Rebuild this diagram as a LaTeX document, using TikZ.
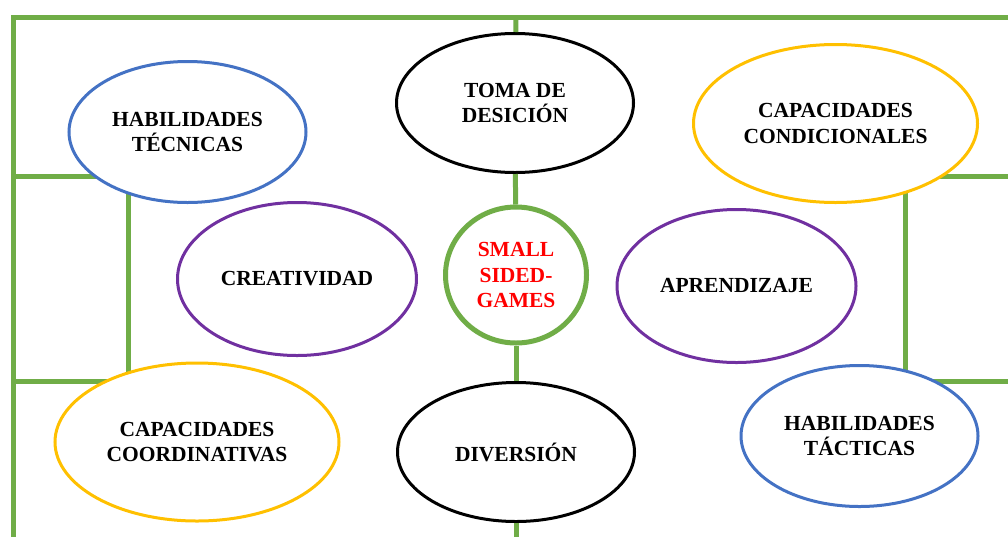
\documentclass[tikz,border=0pt]{standalone}
\usepackage{fontspec}
\setmainfont{Liberation Serif}
\usetikzlibrary{shapes.geometric}
\definecolor{fgreen}{HTML}{70AD47}
\definecolor{oblue}{HTML}{4472C4}
\definecolor{oyellow}{HTML}{FFC000}
\definecolor{opurple}{HTML}{7030A0}
\tikzset{
  field/.style={draw=fgreen, line width=5pt},
  bubble/.style={ellipse, fill=white, line width=3pt, inner sep=0pt, align=center,
    font=\fontsize{21.5}{25.5}\selectfont\bfseries},
  bluebub/.style={bubble, draw=oblue, minimum width=237pt, minimum height=141pt},
  blackbub/.style={bubble, draw=black, minimum width=237pt, minimum height=139pt},
  yellowbub/.style={bubble, draw=oyellow, minimum width=284pt, minimum height=158pt},
  purplebub/.style={bubble, draw=opurple, minimum width=239pt, minimum height=153pt},
  hub/.style={ellipse, draw=fgreen, fill=white, line width=5pt, minimum width=141pt,
    minimum height=136pt, inner sep=0pt,
    align=center, text=red, font=\fontsize{21.5}{25.5}\selectfont\bfseries}
}
\begin{document}
\begin{tikzpicture}[x=1pt,y=-1pt]
\useasboundingbox (0,0) rectangle (1008,536);
% field
\coordinate (tl) at (13,17);
\coordinate (tr) at (1010,17);
\coordinate (bl) at (13,538);
\coordinate (tm) at (516,17);
\coordinate (bm) at (516,538);
\coordinate (l1) at (13,176);
\coordinate (l2) at (128,176);
\coordinate (l3) at (128,381);
\coordinate (l4) at (13,381);
\coordinate (r1) at (1010,176);
\coordinate (r2) at (905,176);
\coordinate (r3) at (905,381);
\coordinate (r4) at (1010,381);
\draw[field] (bl) -- (tl) -- (tr);
\draw[field] (l1) -- (l2) -- (l3) -- (l4);
\draw[field] (r1) -- (r2) -- (r3) -- (r4);
% nodes
\node[hub] (ssg) at (516,275) {SMALL\\SIDED-\\GAMES};
\node[blackbub] (toma) at (515,103) {TOMA DE\\DESICIÓN};
\node[blackbub] (div) at (516,452) {DIVERSIÓN};
\draw[field] (tm) -- (toma);
\draw[field] (toma) -- (ssg);
\draw[field] (ssg) -- (div);
\draw[field] (div) -- (bm);
\node[bluebub] (tec) at (187.5,132) {HABILIDADES\\TÉCNICAS};
\node[yellowbub] (cond) at (835.5,123.5) {CAPACIDADES\\CONDICIONALES};
\node[purplebub] (crea) at (297,279) {CREATIVIDAD};
\node[purplebub] (apr) at (736.5,286) {APRENDIZAJE};
\node[yellowbub] (coord) at (197,442) {CAPACIDADES\\COORDINATIVAS};
\node[bluebub] (tac) at (859.5,436) {HABILIDADES\\TÁCTICAS};
\end{tikzpicture}
\end{document}
